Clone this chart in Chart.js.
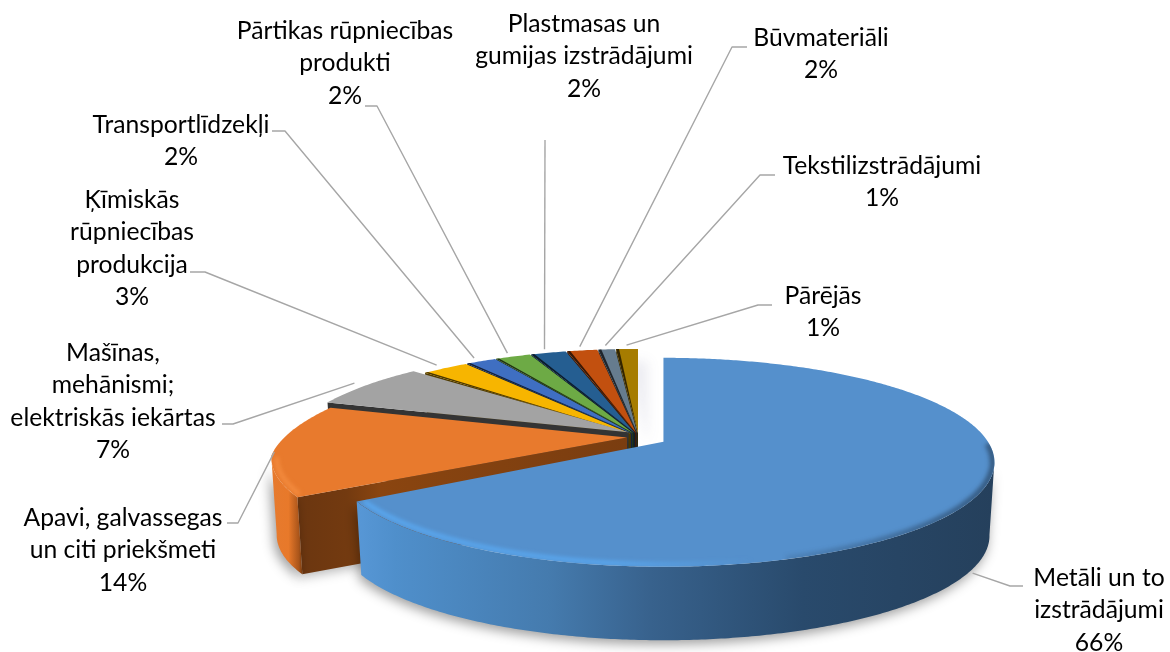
<!DOCTYPE html>
<html><head><meta charset="utf-8">
<style>html,body{margin:0;padding:0;background:#fff}canvas{display:block}</style>
<script src="https://cdn.jsdelivr.net/npm/chart.js@4"></script>
</head><body><canvas id="c" width="1170" height="652"></canvas>
<script>
const categories = ["Metāli un to izstrādājumi","Apavi, galvassegas un citi priekšmeti","Mašīnas, mehānismi; elektriskās iekārtas","Ķīmiskās rūpniecības produkcija","Transportlīdzekļi","Pārtikas rūpniecības produkti","Plastmasas un gumijas izstrādājumi","Būvmateriāli","Tekstilizstrādājumi","Pārējās"];
const values = [66,14,7,2.8,1.8,2.1,2.1,1.8,1,1.3];
const colors = ["#5590CC","#E87A2D","#A3A3A3","#F7B500","#3F6FC2","#6DAA45","#255E91","#C2500F","#667C8E","#A67C00"];
const wrappedLabels = [["Metāli un to","izstrādājumi"],["Apavi, galvassegas","un citi priekšmeti"],["Mašīnas,","mehānismi;","elektriskās iekārtas"],["Ķīmiskās","rūpniecības","produkcija"],["Transportlīdzekļi"],["Pārtikas rūpniecības","produkti"],["Plastmasas un","gumijas izstrādājumi"],["Būvmateriāli"],["Tekstilizstrādājumi"],["Pārējās"]];

// layout / style only
const explode = [28.5,11.6,11.6,11.6,11.6,11.6,11.6,11.6,11.6,11.6];
const nudgeY = [1,0.5,-2.5,0,0,0,0,0,0,0];
const labelCenter = [[1099,578],[123,518],[113,353],[132,200],[181,125],[345,31],[584,24],[821,38],[882,166],[823,296]];
const elbow = [[[1023,586],[1010,586]],[[227,523],[238,523]],[[222,424],[233,424]],[[190,272],[205,272]],[[272,131],[285,131]],[[365,106],[377,106]],[[545,140],[545,140]],[[747,47],[732,47]],[[775,175],[760,175]],[[772,305],[758,305]]];
const FLATTEN = 0.312, PERSP = 0.196, DEPTH = 73.5, LINE_H = 32.4;
const SILH = 0.19;

function stretchAt(i,t){
  if(i===0) return 1.008;
  if(i===2) return 1.045;
  if(i!==1) return 1;
  const d=t*180/Math.PI;
  return d<170?1.083:1.083-(d-170)/28*0.053;
}
function shade(hex,f){const n=parseInt(hex.slice(1),16);const c=[n>>16,(n>>8)&255,n&255].map(v=>Math.round(v*f));return `rgb(${c[0]},${c[1]},${c[2]})`;}
function rimPoint(a,theta,i,s=1){const u=Math.cos(theta),v=Math.sin(theta),w=1-PERSP*v;return {x:a.outerRadius*u/w*stretchAt(i,theta)*s,y:a.outerRadius*FLATTEN*v/w*s};}
function apexOf(a,i){const m=(a.startAngle+a.endAngle)/2,o=a.options.offset;return {x:a.x+Math.cos(m)*o,y:a.y+Math.sin(m)*o*FLATTEN+nudgeY[i]};}
function sweep(from,to){const out=[],n=Math.max(2,Math.ceil(Math.abs(to-from)/0.01));for(let i=0;i<=n;i++)out.push(from+(to-from)*i/n);return out;}
function trace(ctx,p,pts){pts.forEach((q,k)=>{k?ctx.lineTo(p.x+q.x,p.y+q.y):ctx.moveTo(p.x+q.x,p.y+q.y);});}

const pie3d = {
  id:'pie3d',
  beforeDatasetDraw(chart,args){
    const ctx=chart.ctx, arcs=args.meta.data;
    ctx.save();
    ctx.filter='blur(0.7px)';
    for(let i=arcs.length-1;i>=0;i--){
      const a=arcs[i], p=apexOf(a,i), col=colors[i];
      const D=DEPTH*(i===1?1.05:1), B=0.985;
      const from=a.startAngle,to=a.endAngle;
      // radial face at the leading edge
      if(i>0){
        const r=rimPoint(a,from,i);
        ctx.save();
        const g=ctx.createLinearGradient(p.x+r.x,0,p.x,0);
        if(i===1){g.addColorStop(0,'#6B3610');g.addColorStop(.15,'#733A10');g.addColorStop(.25,'#8A4510');g.addColorStop(1,'#7A3D10');}
        else{g.addColorStop(0,shade(col,.32));g.addColorStop(1,shade(col,.32));}
        ctx.fillStyle=g;
        if(i===1){ctx.shadowColor='rgba(0,0,0,.3)';ctx.shadowBlur=12;ctx.shadowOffsetY=3;ctx.shadowOffsetX=-2;}
        ctx.beginPath();ctx.moveTo(p.x,p.y);ctx.lineTo(p.x+r.x,p.y+r.y);ctx.lineTo(p.x+r.x*B,p.y+r.y+D);ctx.lineTo(p.x,p.y+D);ctx.closePath();ctx.fill();
        ctx.restore();
      }
      // outer wall, from silhouette to silhouette
      const wf=Math.max(from,SILH), wt=Math.min(to,Math.PI-SILH);
      if(wt>wf){
        const th=sweep(wf,wt);
        ctx.save();
        let g;
        if(i===0){
          g=ctx.createLinearGradient(p.x-306,0,p.x+330,0);
          g.addColorStop(0,'#5797D6');g.addColorStop(.06,'#4F8FCB');g.addColorStop(.3,'#457BAE');g.addColorStop(.46,'#38628D');g.addColorStop(.7,'#294A6C');g.addColorStop(1,'#25405C');
        }else{
          g=ctx.createLinearGradient(p.x-355,0,p.x-325,0);
          g.addColorStop(0,'#E67A2E');g.addColorStop(.55,'#E8792A');g.addColorStop(.9,'#A8541A');g.addColorStop(1,'#7A3D10');
        }
        ctx.fillStyle=g;
        ctx.shadowColor='rgba(0,0,0,.38)';ctx.shadowBlur=12;ctx.shadowOffsetY=4;ctx.shadowOffsetX=i===0?-2:-3;
        ctx.beginPath();
        trace(ctx,p,th.map(t=>rimPoint(a,t,i)));
        th.slice().reverse().forEach(t=>{const q=rimPoint(a,t,i);ctx.lineTo(p.x+q.x*B,p.y+q.y+D);});
        ctx.closePath();ctx.fill();
        ctx.restore();
      }
      // top surface
      ctx.save();
      ctx.fillStyle=col;
      if(i===9){ctx.shadowColor='rgba(60,60,110,.09)';ctx.shadowBlur=12;ctx.shadowOffsetX=10;ctx.shadowOffsetY=12;}
      ctx.beginPath();ctx.moveTo(p.x,p.y);
      sweep(from,to).forEach(t=>{const q=rimPoint(a,t,i);ctx.lineTo(p.x+q.x,p.y+q.y);});
      ctx.closePath();ctx.fill();
      ctx.restore();
      // dark tapering seam along the leading edge of the narrow slices
      if(i>=3){
        const r0=rimPoint(a,from,i), r1=rimPoint(a,from+0.01,i);
        const delta=0.01*3/Math.hypot(r1.x-r0.x,r1.y-r0.y);
        const r2=rimPoint(a,from+delta,i);
        ctx.fillStyle=shade(col,.3);
        ctx.beginPath();ctx.moveTo(p.x,p.y);ctx.lineTo(p.x+r0.x,p.y+r0.y);ctx.lineTo(p.x+r2.x,p.y+r2.y);ctx.closePath();ctx.fill();
      }
      // rim bevel
      if(i<=1){
        ctx.save();
        ctx.filter='blur(2px)';ctx.lineCap='butt';
        if(i===0){
          ctx.save();
          ctx.beginPath();ctx.moveTo(p.x,p.y);sweep(from,to).forEach(t=>{const q=rimPoint(a,t,i);ctx.lineTo(p.x+q.x,p.y+q.y);});ctx.closePath();ctx.clip();
          const g=ctx.createLinearGradient(p.x-310,0,p.x+90,0);
          g.addColorStop(0,'rgba(92,178,255,.8)');g.addColorStop(.65,'rgba(92,178,255,.75)');g.addColorStop(1,'rgba(92,178,255,0)');
          ctx.strokeStyle=g;ctx.lineWidth=4;ctx.beginPath();
          trace(ctx,p,sweep(to-0.01,Math.PI*0.4).map(t=>rimPoint(a,t,i,.98)));
          ctx.stroke();
          const d=ctx.createLinearGradient(p.x+60,0,p.x+330,0);
          d.addColorStop(0,'rgba(38,64,92,0)');d.addColorStop(1,'rgba(38,64,92,.7)');
          ctx.strokeStyle=d;ctx.lineWidth=6;ctx.beginPath();
          trace(ctx,p,sweep(Math.PI*0.4,0.02).map(t=>rimPoint(a,t,i,.995)));
          ctx.stroke();
          ctx.restore();
        }else{
          ctx.strokeStyle='rgba(247,146,70,.8)';ctx.lineWidth=4;ctx.beginPath();
          trace(ctx,p,sweep(from+0.02,Math.PI-SILH).map(t=>rimPoint(a,t,i,.985)));
          ctx.stroke();
        }
        ctx.restore();
      }
    }
    ctx.restore();
    return false;
  },
  afterDraw(chart){
    const ctx=chart.ctx, arcs=chart.getDatasetMeta(0).data, total=values.reduce((s,v)=>s+v,0);
    ctx.save();
    ctx.strokeStyle='#A6A6A6';ctx.lineWidth=1.4;ctx.lineJoin='round';
    arcs.forEach((a,i)=>{
      const p=apexOf(a,i), m=(a.startAngle+a.endAngle)/2, q=rimPoint(a,m,i);
      const f=i===0?0.985:i===1?1:1.045, extra=i===0?DEPTH+5:i===1?2:0;
      ctx.beginPath();
      ctx.moveTo(elbow[i][0][0],elbow[i][0][1]);
      ctx.lineTo(elbow[i][1][0],elbow[i][1][1]);
      ctx.lineTo(p.x+q.x*f,p.y+q.y*f+extra);
      ctx.stroke();
    });
    ctx.fillStyle='#000';ctx.font='24.7px Lato';ctx.textAlign='center';ctx.textBaseline='middle';
    wrappedLabels.forEach((lines,i)=>{
      const all=[...lines,Math.round(values[i]/total*100)+'%'];
      all.forEach((t,k)=>ctx.fillText(t,labelCenter[i][0],labelCenter[i][1]+k*LINE_H));
    });
    ctx.restore();
  }
};

new Chart(document.getElementById('c'),{
  type:'pie',
  data:{labels:categories,datasets:[{data:values,backgroundColor:colors,offset:explode,borderWidth:0,clip:false}]},
  options:{
    responsive:false,animation:false,events:[],
    radius:322,
    layout:{padding:{left:107,top:221}},
    plugins:{legend:{display:false},tooltip:{enabled:false},title:{display:false}}
  },
  plugins:[pie3d]
});
</script></body></html>
